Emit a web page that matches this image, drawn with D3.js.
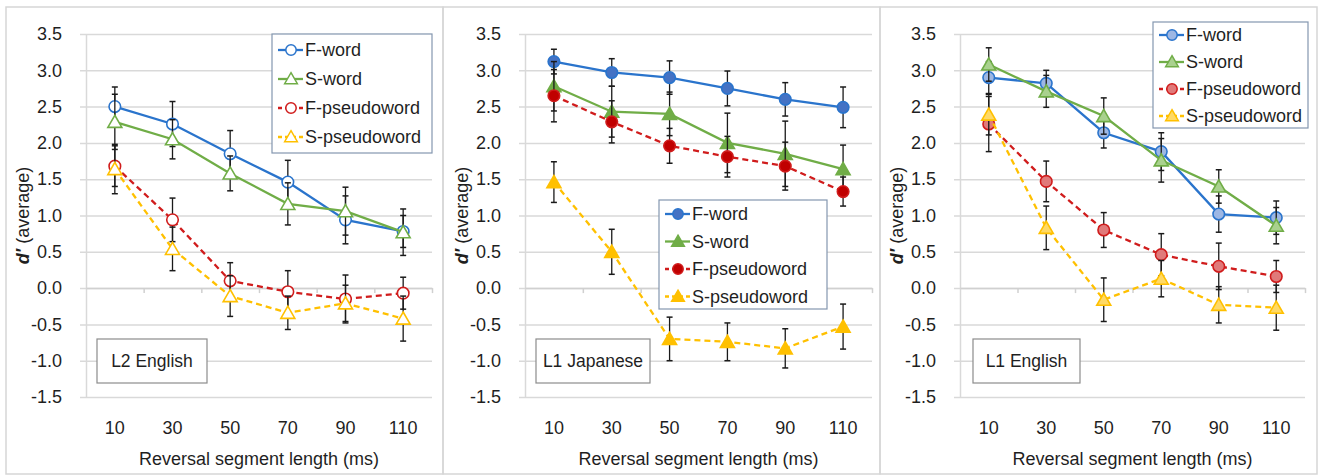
<!DOCTYPE html>
<html>
<head>
<meta charset="utf-8">
<script src="https://cdn.jsdelivr.net/npm/d3@7"></script>
<style>
  body { margin: 0; background: #fff; }
  svg { display: block; font-family: "Liberation Sans", Arial, sans-serif; }
</style>
</head>
<body>
<svg id="chart" width="1320" height="476"></svg>
<script>
// ---- data ----
var categories = [10, 30, 50, 70, 90, 110];
var yTicks = [-1.5, -1.0, -0.5, 0.0, 0.5, 1.0, 1.5, 2.0, 2.5, 3.0, 3.5];
var seriesNames = ["F-word", "S-word", "F-pseudoword", "S-pseudoword"];
var panelTitles = ["L2 English", "L1 Japanese", "L1 English"];

// rows: F-word, S-word, F-pseudoword, S-pseudoword
var l2EnglishValues = [
  [2.50, 2.26, 1.85, 1.46, 0.94, 0.78],
  [2.29, 2.05, 1.58, 1.16, 1.06, 0.77],
  [1.68, 0.94, 0.10, -0.05, -0.15, -0.07],
  [1.64, 0.54, -0.11, -0.34, -0.21, -0.42]
];
var l2EnglishErrors = [
  [0.27, 0.31, 0.32, 0.30, 0.33, 0.22],
  [0.38, 0.27, 0.24, 0.29, 0.33, 0.32],
  [0.28, 0.30, 0.25, 0.29, 0.33, 0.22],
  [0.34, 0.30, 0.28, 0.23, 0.25, 0.31]
];

var l1JapaneseValues = [
  [3.12, 2.97, 2.90, 2.75, 2.60, 2.49],
  [2.78, 2.43, 2.40, 2.00, 1.85, 1.64],
  [2.65, 2.29, 1.96, 1.81, 1.68, 1.33],
  [1.46, 0.50, -0.70, -0.74, -0.83, -0.53]
];
var l1JapaneseErrors = [
  [0.17, 0.19, 0.23, 0.24, 0.23, 0.28],
  [0.34, 0.35, 0.30, 0.41, 0.45, 0.33],
  [0.36, 0.29, 0.24, 0.28, 0.33, 0.20],
  [0.28, 0.31, 0.30, 0.26, 0.27, 0.31]
];

var l1EnglishValues = [
  [2.90, 2.82, 2.14, 1.88, 1.02, 0.97],
  [3.08, 2.71, 2.37, 1.76, 1.40, 0.86],
  [2.26, 1.47, 0.80, 0.46, 0.30, 0.16],
  [2.39, 0.83, -0.16, 0.13, -0.23, -0.27]
];
var l1EnglishErrors = [
  [0.22, 0.18, 0.21, 0.26, 0.25, 0.23],
  [0.23, 0.22, 0.25, 0.30, 0.23, 0.25],
  [0.38, 0.28, 0.24, 0.29, 0.32, 0.22],
  [0.28, 0.30, 0.30, 0.25, 0.25, 0.31]
];

// ---- look ----
var TEXT = "#1f1f1f";
var LINE_COLORS = ["#2A74CC", "#70AD47", "#D01C1C", "#FFC000"];
var FILLS = {
  hollow: ["#ffffff", "#ffffff", "#ffffff", "#ffffff"],
  solid:  ["#4472C4", "#70AD47", "#C00000", "#FFC000"],
  tint:   ["#9DB7E4", "#A9D18E", "#E07A7A", "#FFD966"]
};
var SHAPES = [d3.symbolCircle, d3.symbolTriangle, d3.symbolCircle, d3.symbolTriangle];
var DASHED = [false, false, true, true];

var PLOT_TOP = 34, PLOT_BOTTOM = 397;

var panels = [
  { values: l2EnglishValues, errors: l2EnglishErrors, fill: "hollow",
    box: [6, 7, 437, 467], left: 86, right: 432,
    legend: { x: 272, y: 34, w: 160, h: 119, row0: 50, step: 29 },
    label: { x: 97, y: 339, w: 110, h: 44 } },
  { values: l1JapaneseValues, errors: l1JapaneseErrors, fill: "solid",
    box: [443, 7, 437, 467], left: 525, right: 872,
    legend: { x: 659, y: 200, w: 168, h: 109, row0: 214, step: 27.5 },
    label: { x: 536, y: 339, w: 114, h: 44 } },
  { values: l1EnglishValues, errors: l1EnglishErrors, fill: "tint",
    box: [880, 7, 437, 467], left: 960, right: 1305,
    legend: { x: 1153, y: 22, w: 155, h: 106, row0: 35, step: 27 },
    label: { x: 973, y: 339, w: 107, h: 44 } }
];

// Excel style: plain hyphen for negatives
var fmt = function (d) { return d3.format(".1f")(d).replace("\u2212", "-"); };

var svg = d3.select("#chart");

var y = d3.scaleLinear().domain([-1.5, 3.5]).range([PLOT_BOTTOM, PLOT_TOP]);

panels.forEach(function (p, pi) {
  var g = svg.append("g");

  // panel frame
  g.append("rect")
    .attr("x", p.box[0]).attr("y", p.box[1])
    .attr("width", p.box[2]).attr("height", p.box[3])
    .attr("fill", "none").attr("stroke", "#D6D6D6").attr("stroke-width", 1.5);

  var x = d3.scaleBand().domain(categories).range([p.left, p.right]).padding(0);
  var cx = function (c) { return x(c) + x.bandwidth() / 2; };
  var width = p.right - p.left;

  // y gridlines + labels
  var yAxis = g.append("g")
    .attr("transform", "translate(" + p.left + ",0)")
    .call(d3.axisLeft(y).tickValues(yTicks).tickFormat(fmt)
      .tickSizeInner(-width).tickSizeOuter(0).tickPadding(24));
  yAxis.select(".domain").attr("stroke", "#D9D9D9").attr("stroke-width", 1.5);
  yAxis.selectAll(".tick line").attr("x1", -6).attr("stroke", "#D9D9D9").attr("stroke-width", 1.5);
  yAxis.selectAll(".tick text").attr("font-size", 18).attr("fill", TEXT)
    .attr("font-family", "'Liberation Sans', Arial, sans-serif");

  // horizontal axis at zero with tick marks between categories
  var bounds = categories.map(function (c) { return x(c) + x.bandwidth(); });
  var zeroAxis = g.append("g")
    .attr("transform", "translate(0," + y(0) + ")")
    .call(d3.axisBottom(d3.scaleLinear().domain([p.left, p.right]).range([p.left, p.right]))
      .tickValues(bounds).tickFormat("").tickSizeInner(5).tickSizeOuter(0));
  zeroAxis.select(".domain").attr("stroke", "#D0D0D0").attr("stroke-width", 1.5);
  zeroAxis.selectAll(".tick line").attr("stroke", "#D0D0D0").attr("stroke-width", 1.5);

  // category labels below plot
  var xLab = g.append("g")
    .attr("transform", "translate(0," + PLOT_BOTTOM + ")")
    .call(d3.axisBottom(x).tickSize(0).tickPadding(24));
  xLab.select(".domain").remove();
  xLab.selectAll(".tick text").attr("font-size", 18).attr("fill", TEXT)
    .attr("font-family", "'Liberation Sans', Arial, sans-serif");

  // axis titles
  g.append("text")
    .attr("x", (p.left + p.right) / 2).attr("y", 465)
    .attr("text-anchor", "middle").attr("font-size", 18).attr("fill", TEXT)
    .text("Reversal segment length (ms)");

  var yt = g.append("text")
    .attr("transform", "translate(" + (p.left - 57) + "," + ((PLOT_TOP + PLOT_BOTTOM) / 2) + ") rotate(-90)")
    .attr("text-anchor", "middle").attr("font-size", 18).attr("fill", TEXT);
  yt.append("tspan").attr("font-style", "italic").attr("font-weight", "bold").text("d\u2032");
  yt.append("tspan").text(" (average)");

  // series
  p.values.forEach(function (vals, si) {
    var pts = vals.map(function (v, i) { return { c: categories[i], v: v, e: p.errors[si][i] }; });
    var sg = g.append("g");

    // error bars
    var eb = sg.selectAll(".err").data(pts).enter().append("g");
    eb.append("line")
      .attr("x1", function (d) { return cx(d.c); }).attr("x2", function (d) { return cx(d.c); })
      .attr("y1", function (d) { return y(d.v - d.e); }).attr("y2", function (d) { return y(d.v + d.e); })
      .attr("stroke", "#1a1a1a").attr("stroke-width", 1.3);
    [-1, 1].forEach(function (sgn) {
      eb.append("line")
        .attr("x1", function (d) { return cx(d.c) - 3; }).attr("x2", function (d) { return cx(d.c) + 3; })
        .attr("y1", function (d) { return y(d.v + sgn * d.e); }).attr("y2", function (d) { return y(d.v + sgn * d.e); })
        .attr("stroke", "#1a1a1a").attr("stroke-width", 1.5);
    });

    sg.append("path")
      .datum(pts)
      .attr("fill", "none")
      .attr("stroke", LINE_COLORS[si]).attr("stroke-width", 2.3)
      .attr("stroke-dasharray", DASHED[si] ? "6,4" : null)
      .attr("d", d3.line().x(function (d) { return cx(d.c); }).y(function (d) { return y(d.v); }));

    sg.selectAll(".mk").data(pts).enter().append("path")
      .attr("transform", function (d) { return "translate(" + cx(d.c) + "," + (y(d.v) + (si % 2 ? 1.5 : 0)) + ")"; })
      .attr("d", d3.symbol().type(SHAPES[si]).size(si % 2 ? 85 : 105))
      .attr("fill", FILLS[p.fill][si])
      .attr("stroke", LINE_COLORS[si]).attr("stroke-width", 1.6);
  });

  // legend
  var L = p.legend;
  var lg = g.append("g");
  lg.append("rect")
    .attr("x", L.x).attr("y", L.y).attr("width", L.w).attr("height", L.h)
    .attr("fill", "#fff").attr("stroke", "#8497B0").attr("stroke-width", 1.2);
  seriesNames.forEach(function (name, si) {
    var ry = L.row0 + si * L.step;
    lg.append("line")
      .attr("x1", L.x + 6).attr("x2", L.x + 31).attr("y1", ry).attr("y2", ry)
      .attr("stroke", LINE_COLORS[si]).attr("stroke-width", 2.3)
      .attr("stroke-dasharray", DASHED[si] ? "4,3" : null);
    lg.append("path")
      .attr("transform", "translate(" + (L.x + 19) + "," + (ry + (si % 2 ? 1 : 0)) + ")")
      .attr("d", d3.symbol().type(SHAPES[si]).size(si % 2 ? 70 : 85))
      .attr("fill", FILLS[p.fill][si])
      .attr("stroke", LINE_COLORS[si]).attr("stroke-width", 1.5);
    lg.append("text")
      .attr("x", L.x + 33).attr("y", ry).attr("dy", "0.36em")
      .attr("font-size", 18).attr("fill", TEXT)
      .text(name);
  });

  // group label
  var B = p.label;
  g.append("rect")
    .attr("x", B.x).attr("y", B.y).attr("width", B.w).attr("height", B.h)
    .attr("fill", "#fff").attr("stroke", "#8C8C8C").attr("stroke-width", 1.2);
  g.append("text")
    .attr("x", B.x + B.w / 2).attr("y", B.y + B.h / 2).attr("dy", "0.36em")
    .attr("text-anchor", "middle").attr("font-size", 17.5).attr("fill", TEXT)
    .text(panelTitles[pi]);
});
</script>
</body>
</html>
